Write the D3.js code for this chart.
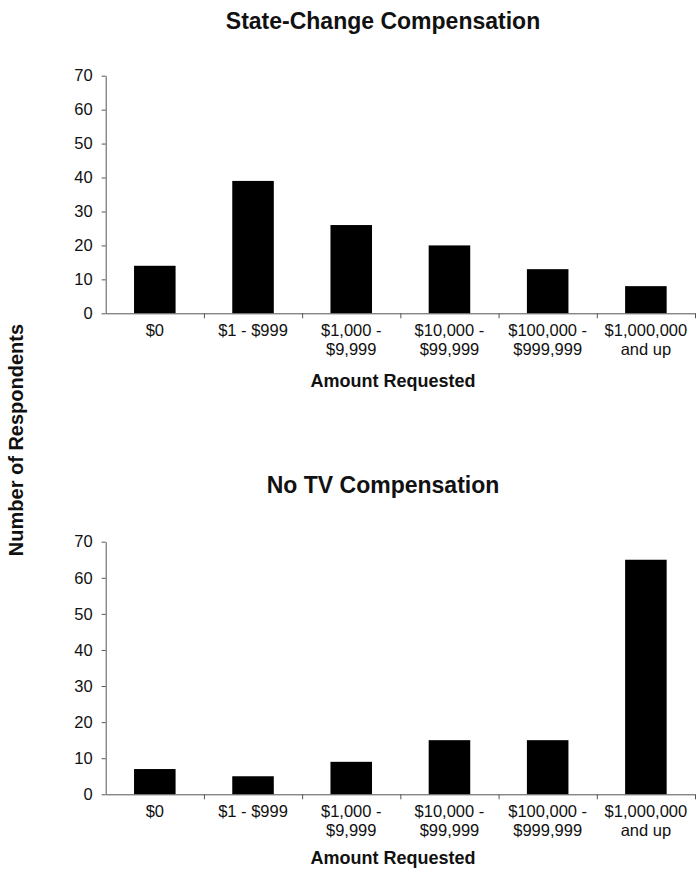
<!DOCTYPE html>
<html>
<head>
<meta charset="utf-8">
<script src="https://cdn.jsdelivr.net/npm/d3@7"></script>
<style>
  body { margin: 0; background: #fff; }
  text { font-family: "Liberation Sans", Arial, sans-serif; fill: #111; }
</style>
</head>
<body>
<svg id="chart" width="696" height="896"></svg>
<script>
// categories and values
const categories = ['$0', '$1 - $999', '$1,000 - $9,999', '$10,000 - $99,999', '$100,000 - $999,999', '$1,000,000 and up'];
const categoryLines = [['$0'], ['$1 - $999'], ['$1,000 -', '$9,999'], ['$10,000 -', '$99,999'], ['$100,000 -', '$999,999'], ['$1,000,000', 'and up']];
const stateChange = [14, 39, 26, 20, 13, 8];
const noTV = [7, 5, 9, 15, 15, 65];
const yTicks = [0, 10, 20, 30, 40, 50, 60, 70];

const svg = d3.select('#chart');

const x0 = 105.7, x1 = 695;

function panel(title, values, titleY, yTop, yBottom, labelY) {
    const g = svg.append('g');

    g.append('text')
        .attr('x', 383).attr('y', titleY)
        .attr('text-anchor', 'middle')
        .style('font-weight', 'bold')
        .style('font-size', '23px')
        .text(title);

    const xScale = d3.scaleBand()
        .domain(categories)
        .range([x0, x1])
        .paddingInner(0.577)
        .paddingOuter(0.2885);

    const edge = d3.scaleLinear().domain([0, categories.length]).range([x0, x1]);

    const yScale = d3.scaleLinear()
        .domain([0, 70])
        .range([yBottom, yTop]);

    g.selectAll('rect')
        .data(values)
        .enter()
        .append('rect')
        .attr('x', (d, i) => xScale(categories[i]))
        .attr('width', xScale.bandwidth())
        .attr('y', d => yScale(d))
        .attr('height', d => yScale(0) - yScale(d))
        .attr('fill', '#000');

    const yAxis = g.append('g')
        .attr('transform', `translate(${x0},0)`)
        .call(d3.axisLeft(yScale).tickValues(yTicks).tickSize(4).tickSizeOuter(0).tickPadding(9));
    yAxis.selectAll('text').style('font-size', '16.5px').attr('fill', '#111');

    g.append('g')
        .attr('transform', `translate(0,${yBottom})`)
        .call(d3.axisBottom(edge).tickValues([1, 2, 3, 4, 5, 6]).tickSize(5).tickSizeOuter(0).tickFormat(''));

    g.selectAll('.domain, .tick line').attr('stroke', '#555');

    const labels = g.selectAll('.cat')
        .data(categoryLines)
        .enter()
        .append('text')
        .attr('class', 'cat')
        .attr('text-anchor', 'middle')
        .style('font-size', '16.5px')
        .attr('x', (d, i) => xScale(categories[i]) + xScale.bandwidth() / 2)
        .attr('y', yBottom + 23);
    labels.selectAll('tspan')
        .data(d => d)
        .enter()
        .append('tspan')
        .attr('x', function () { return this.parentNode.getAttribute('x'); })
        .attr('dy', (d, i) => i === 0 ? 0 : 19)
        .text(d => d);

    g.append('text')
        .attr('x', 393).attr('y', labelY)
        .attr('text-anchor', 'middle')
        .style('font-weight', 'bold')
        .style('font-size', '18px')
        .text('Amount Requested');
}

panel('State-Change Compensation', stateChange, 29, 75.7, 313.3, 387);
panel('No TV Compensation', noTV, 493, 541.7, 794.3, 864);

svg.append('text')
    .attr('transform', 'translate(23,440) rotate(-90)')
    .attr('text-anchor', 'middle')
    .style('font-weight', 'bold')
    .style('font-size', '20px')
    .text('Number of Respondents');
</script>
</body>
</html>
